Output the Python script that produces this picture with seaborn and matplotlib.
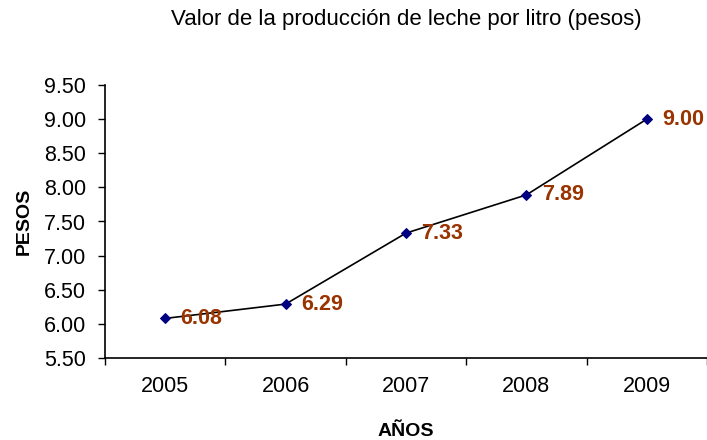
import matplotlib
matplotlib.use('Agg')
import matplotlib.pyplot as plt
import pandas as pd
import seaborn as sns

years = ['2005', '2006', '2007', '2008', '2009']
pesos = [6.08, 6.29, 7.33, 7.89, 9.00]
yticks = [5.5, 6.0, 6.5, 7.0, 7.5, 8.0, 8.5, 9.0, 9.5]

sns.set_style('white')
plt.rcParams['font.family'] = ['Liberation Sans', 'DejaVu Sans']
plt.rcParams['text.color'] = 'black'
plt.rcParams['xtick.color'] = 'black'
plt.rcParams['ytick.color'] = 'black'
plt.rcParams['axes.labelcolor'] = 'black'

df = pd.DataFrame({'year': years, 'pesos': pesos})
df['pos'] = range(len(years))

fig = plt.figure(figsize=(7.07, 4.40), dpi=100)
ax = fig.add_axes([105 / 707, (440 - 358) / 440, 1 - 105 / 707, (358 - 85) / 440])

sns.lineplot(data=df, x='pos', y='pesos', ax=ax, color='black', lw=1.2,
             marker='D', markersize=5, markerfacecolor='#000080',
             markeredgecolor='#000080')

for x, y in zip(df['pos'], df['pesos']):
    ax.annotate('%.2f' % y, (x, y), xytext=(11, 0), textcoords='offset points',
                ha='left', va='center', fontsize=15.5, fontweight='bold',
                color='#993300')

ax.set_xlim(-0.5, 4.45)
ax.set_ylim(5.5, 9.5)
ax.set_yticks(yticks)
ax.set_yticklabels(['%.2f' % t for t in yticks], fontsize=15.5)
ax.set_xticks([i - 0.5 for i in range(len(years) + 1)])
ax.set_xticklabels([])
ax.set_xticks(list(range(len(years))), minor=True)
ax.set_xticklabels(years, minor=True, fontsize=15.5)
ax.tick_params(axis='x', which='minor', length=0, pad=13)
ax.tick_params(axis='both', which='major', direction='out', length=5, width=1,
               color='black', left=True, bottom=True)
ax.tick_params(axis='y', which='major', pad=8.5)
for s in ['top', 'right']:
    ax.spines[s].set_visible(False)
for s in ['left', 'bottom']:
    ax.spines[s].set_color('black')
    ax.spines[s].set_linewidth(1.2)

ax.set_xlabel('AÑOS', fontsize=14, fontweight='bold', labelpad=19)
ax.set_ylabel('PESOS', fontsize=14, fontweight='bold', labelpad=8)
fig.text(406 / 707, 1 - 20 / 440, 'Valor de la producción de leche por litro (pesos)',
         ha='center', va='center', fontsize=16)

fig.savefig('out.png', dpi=100)
